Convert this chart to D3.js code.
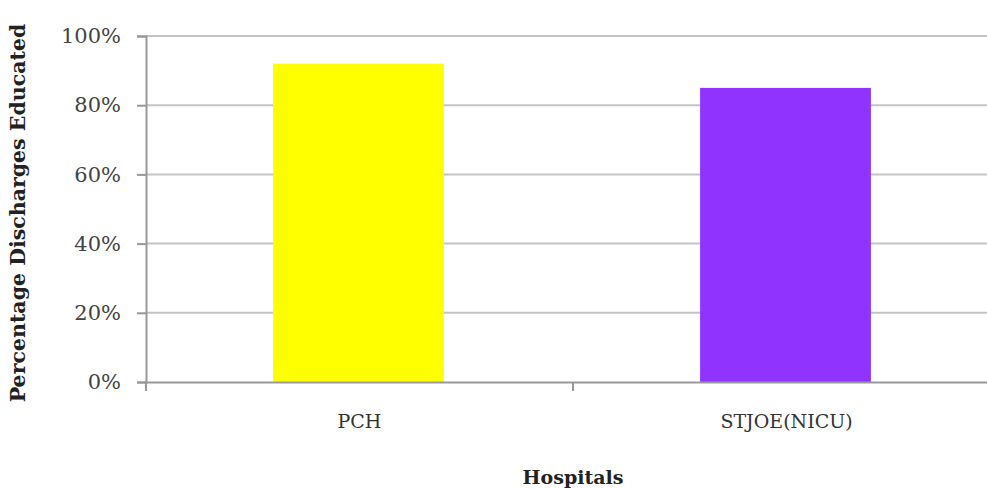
<!DOCTYPE html>
<html><head><meta charset="utf-8">
<script src="https://cdn.jsdelivr.net/npm/d3@7"></script>
<style>body{margin:0;background:#fff}svg{display:block}</style>
</head><body>
<script>
const categories = ["PCH", "STJOE(NICU)"];
const values = [0.92, 0.85];
const colors = ["#ffff00", "#9133ff"];
const yTicks = [0, 0.2, 0.4, 0.6, 0.8, 1.0];
const yTitle = "Percentage Discharges Educated";
const xTitle = "Hospitals";

const W = 987, H = 489;
const m = {left: 146, top: 36, bottom: 107};
const svg = d3.select("body").append("svg").attr("width", W).attr("height", H);
const xb = d3.scaleBand().domain(categories).range([m.left, W + 13]);
const y = d3.scaleLinear().domain([0, 1]).range([H - m.bottom, m.top]);
const font = "'DejaVu Serif', serif";

// gridlines
svg.append("g").selectAll("line").data(yTicks.slice(1)).join("line")
  .attr("x1", m.left).attr("x2", W).attr("y1", d => y(d)).attr("y2", d => y(d))
  .attr("stroke", "#c4c4c4").attr("stroke-width", 2);

// bars
svg.append("g").selectAll("rect").data(categories).join("rect")
  .attr("x", d => xb(d) + xb.bandwidth() * 0.3 - 1).attr("width", xb.bandwidth() * 0.4)
  .attr("y", (d, i) => y(values[i])).attr("height", (d, i) => y(0) - y(values[i]))
  .attr("fill", (d, i) => colors[i]);

// y axis
const ya = svg.append("g").attr("transform", `translate(${m.left},0)`)
  .call(d3.axisLeft(y).tickValues(yTicks).tickFormat(d3.format(".0%")).tickSize(9).tickPadding(16));
ya.selectAll("path,line").attr("stroke", "#999").attr("stroke-width", 2);
ya.selectAll("text").attr("font-family", font).attr("font-size", 21).attr("fill", "#444");

// x axis
const xa = svg.append("g").attr("transform", `translate(0,${y(0)})`)
  .call(d3.axisBottom(xb).tickSize(0).tickPadding(33));
xa.select("path").attr("stroke", "#999").attr("stroke-width", 2);
xa.selectAll("text").attr("font-family", font).attr("font-size", 19).attr("fill", "#333");
svg.append("g").selectAll("line").data(categories).join("line")
  .attr("x1", d => xb(d)).attr("x2", d => xb(d))
  .attr("y1", y(0)).attr("y2", y(0) + 9).attr("stroke", "#999").attr("stroke-width", 2);

// titles
svg.append("text").attr("transform", `translate(25,${(y(0)+y(1))/2 + 4}) rotate(-90)`)
  .attr("text-anchor", "middle").attr("font-family", font).attr("font-weight", "bold")
  .attr("font-size", 20.5).attr("fill", "#222").text(yTitle);
svg.append("text").attr("x", xb.range()[0] + (xb.range()[1] - xb.range()[0]) / 2).attr("y", 484)
  .attr("text-anchor", "middle").attr("font-family", font).attr("font-weight", "bold")
  .attr("font-size", 19).attr("fill", "#222").text(xTitle);
</script>
</body></html>
